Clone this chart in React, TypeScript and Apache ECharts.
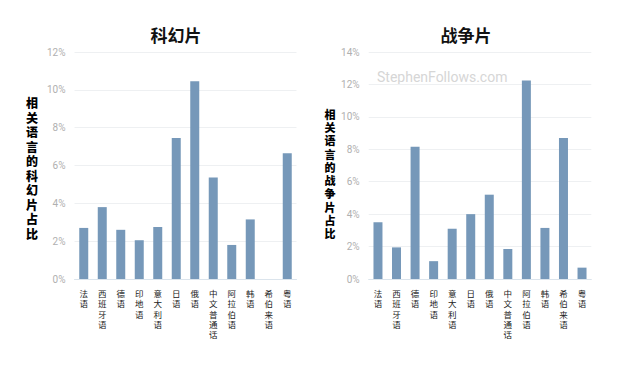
import React, { useEffect, useRef } from "react";
import * as echarts from "echarts";

const categories = ["法语", "西班牙语", "德语", "印地语", "意大利语", "日语", "俄语", "中文普通话", "阿拉伯语", "韩语", "希伯来语", "粤语"];
const scifiValues = [2.7, 3.8, 2.6, 2.05, 2.75, 7.45, 10.45, 5.37, 1.8, 3.15, 0, 6.65];
const warValues = [3.5, 1.95, 8.15, 1.1, 3.1, 4.0, 5.2, 1.85, 12.25, 3.15, 8.7, 0.7];
const scifiTitle = "科幻片";
const warTitle = "战争片";
const scifiYName = "相关语言的科幻片占比";
const warYName = "相关语言的战争片占比";
const watermark = "StephenFollows.com";

const BAR = "#7698b9";

function verticalChars(s: string, x: number, yStart: number, step: number, size: number) {
  return s.split("").map((ch, i) => ({
    type: "text",
    x,
    y: yStart + step * (i + 0.5),
    style: {
      text: ch,
      fill: "#000",
      font: `900 ${size}px 'Noto Sans CJK SC'`,
      align: "center",
      verticalAlign: "middle",
    },
  }));
}

export default function App() {
  const ref = useRef<HTMLDivElement>(null);
  useEffect(() => {
    const chart = echarts.init(ref.current!, null, { renderer: "svg" });
    const xAxisCommon = {
      type: "category" as const,
      data: categories,
      axisTick: { show: false },
      axisLine: { lineStyle: { color: "#dbe4ec", width: 1 } },
      axisLabel: {
        interval: 0,
        color: "#222",
        fontSize: 8.5,
        lineHeight: 10.3,
        margin: 9,
        verticalAlign: "top" as const,
        fontFamily: "Noto Sans CJK SC",
        formatter: (v: string) => v.split("").join("\n"),
      },
    };
    const yAxisCommon = {
      type: "value" as const,
      min: 0,
      interval: 2,
      axisLine: { show: false },
      axisTick: { show: false },
      splitLine: { lineStyle: { color: "#eef0f2", width: 1 } },
      axisLabel: {
        color: "#b0b0b0",
        fontSize: 10,
        margin: 9,
        fontFamily: "Roboto",
        formatter: (v: number) => v + "%",
      },
    };
    chart.setOption({
      animation: false,
      backgroundColor: "#ffffff",
      title: [
        {
          text: scifiTitle,
          left: 171,
          top: 21,
          textAlign: "center",
          textStyle: { fontSize: 17, fontWeight: "bold", color: "#111", fontFamily: "Noto Sans CJK SC" },
        },
        {
          text: warTitle,
          left: 461,
          top: 21,
          textAlign: "center",
          textStyle: { fontSize: 17, fontWeight: "bold", color: "#111", fontFamily: "Noto Sans CJK SC" },
        },
      ],
      grid: [
        { left: 74.5, top: 52, width: 222, height: 227 },
        { left: 368.7, top: 52, width: 222.6, height: 227 },
      ],
      xAxis: [
        { ...xAxisCommon, gridIndex: 0 },
        { ...xAxisCommon, gridIndex: 1 },
      ],
      yAxis: [
        { ...yAxisCommon, gridIndex: 0, max: 12 },
        { ...yAxisCommon, gridIndex: 1, max: 14 },
      ],
      series: [
        {
          type: "bar",
          xAxisIndex: 0,
          yAxisIndex: 0,
          data: scifiValues,
          barWidth: 9,
          itemStyle: { color: BAR },
        },
        {
          type: "bar",
          xAxisIndex: 1,
          yAxisIndex: 1,
          data: warValues,
          barWidth: 9,
          itemStyle: { color: BAR },
        },
      ],
      graphic: [
        ...verticalChars(scifiYName, 32, 95.5, 14.5, 12),
        ...verticalChars(warYName, 330, 107, 13.3, 11),
        {
          type: "text",
          x: 377,
          y: 77,
          style: {
            text: watermark,
            fill: "#d6d6d6",
            font: "14px Roboto",
            align: "left",
            verticalAlign: "middle",
          },
        },
      ],
    });
    return () => chart.dispose();
  }, []);
  return <div ref={ref} style={{ width: 620, height: 368, position: "absolute", left: 0, top: 0 }} />;
}
